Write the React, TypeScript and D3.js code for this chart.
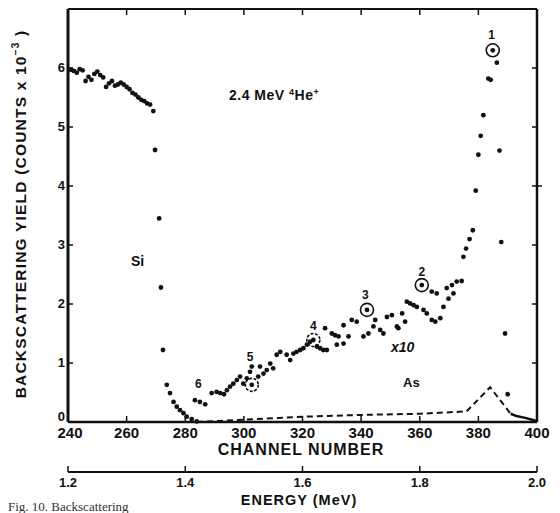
import React from "react";
import * as d3 from "d3";

// Si (unscaled) spectrum: channel, counts x 10^-3
const siChannels = [241, 242, 243, 244, 245, 246, 247, 248, 249, 250, 251, 252, 253, 254, 255, 256, 257, 258, 259, 260, 261, 262, 263, 264, 265, 266, 267, 268, 269.1, 269.7, 271.1, 271.7, 272.4, 273.7, 274.8, 276, 277.1, 278.2, 279.4, 280.5, 282.2, 283.9];
const siValues = [5.97, 5.95, 5.92, 5.98, 5.96, 5.78, 5.85, 5.8, 5.9, 5.94, 5.88, 5.84, 5.68, 5.74, 5.78, 5.7, 5.72, 5.75, 5.72, 5.68, 5.64, 5.58, 5.55, 5.5, 5.46, 5.44, 5.4, 5.38, 5.27, 4.61, 3.45, 2.28, 1.22, 0.63, 0.49, 0.34, 0.26, 0.2, 0.15, 0.09, 0.05, 0.01];

// As spectrum multiplied by 10
const asChannels = [283.3, 285, 286.8, 289, 290.7, 291.9, 293.2, 294.2, 295.3, 296.4, 297.6, 298.7, 299.8, 301, 302.1, 302.7, 302.7, 304.9, 305.5, 306.7, 307.8, 309, 310, 311.2, 312.4, 314.6, 315.8, 316.9, 318, 319.2, 320.3, 321.5, 322.6, 323.7, 324.9, 326, 327.1, 328.3, 327.7, 330, 331.1, 332.3, 331.7, 334, 334, 335.7, 336.8, 338.5, 340.8, 342, 342.5, 344.2, 344.8, 346.5, 347.6, 348.8, 350.5, 352.2, 352.7, 354, 355, 355.6, 356.7, 357.9, 359, 360.7, 361.3, 362.4, 364.1, 365.3, 367, 368.1, 369.8, 364.1, 365.8, 369.2, 371.5, 371, 372.6, 374.3, 374.9, 375.8, 377, 378.1, 379.1, 380, 380.8, 381.7, 383.4, 384.2, 384.9, 386.3, 387.2, 387.8, 389.1, 390];
const asValues = [0.37, 0.34, 0.3, 0.49, 0.51, 0.49, 0.47, 0.54, 0.6, 0.65, 0.71, 0.77, 0.65, 0.74, 0.85, 0.94, 0.63, 0.77, 0.94, 0.82, 0.88, 0.99, 0.91, 1.14, 1.19, 1.14, 1.05, 1.16, 1.19, 1.22, 1.25, 1.31, 1.36, 1.39, 1.28, 1.25, 1.22, 1.22, 1.59, 1.5, 1.47, 1.45, 1.31, 1.33, 1.64, 1.45, 1.73, 1.7, 1.45, 1.9, 1.5, 1.62, 1.73, 1.56, 1.5, 1.78, 1.81, 1.62, 1.59, 1.84, 1.7, 2.04, 2.01, 1.98, 1.95, 2.32, 1.9, 1.84, 1.73, 1.7, 1.76, 1.95, 2.09, 2.21, 2.18, 2.27, 2.18, 2.32, 2.38, 2.39, 2.8, 2.94, 3.1, 3.25, 3.92, 4.53, 4.85, 5.2, 5.82, 5.8, 6.3, 6.09, 4.6, 3.05, 1.5, 0.47];

// Marked channels (numbered, circled)
const markLabels = ["1", "2", "3", "4", "5", "6"];
const markChannels = [384.9, 360.7, 342, 323.7, 302.7];
const markValues = [6.3, 2.32, 1.9, 1.39, 0.63];
const labelChannels = [384.5, 360.7, 341.4, 323.7, 302.1, 284.5];
const labelValues = [6.56, 2.54, 2.15, 1.63, 1.1, 0.65];

// As spectrum (unscaled), dashed
const asLineChannels = [284, 300, 320, 340, 360, 376, 384, 391];
const asLineValues = [0.0, 0.04, 0.09, 0.12, 0.14, 0.18, 0.59, 0.14];
const tailChannels = [391, 393, 396, 399, 400];
const tailValues = [0.14, 0.1, 0.07, 0.03, 0.01];

const channelTicks = [240, 260, 280, 300, 320, 340, 360, 380, 400];
const yieldTicks = [0, 1, 2, 3, 4, 5, 6];
const energyTicks = [1.2, 1.4, 1.6, 1.8, 2.0];

const W = 560;
const H = 513;

export default function App() {
  const x = d3.scaleLinear().domain([240, 400]).range([68, 537]);
  const y = d3.scaleLinear().domain([0, 7]).range([422, 9]);
  const e = d3.scaleLinear().domain([1.2, 2.0]).range([68, 537]);
  const eY = 472;

  const lineGen = d3
    .line<[number, number]>()
    .x((d) => x(d[0]))
    .y((d) => y(d[1]));

  const asLine = asLineChannels.map((c, i) => [c, asLineValues[i]] as [number, number]);
  const tail = tailChannels.map((c, i) => [c, tailValues[i]] as [number, number]);
  const font = "'Liberation Sans', Arial, sans-serif";

  return (
    <svg
      width={W}
      height={H}
      style={{ position: "absolute", left: 0, top: 0, background: "#fff" }}
      fontFamily={font}
    >
      <rect x={0} y={0} width={W} height={H} fill="#fff" />
      {/* frame */}
      <line x1={x(240)} y1={y(7)} x2={x(400)} y2={y(7)} stroke="#111" strokeWidth={2} />
      <line x1={x(240)} y1={y(0)} x2={x(400)} y2={y(0)} stroke="#111" strokeWidth={2.5} />
      <line x1={x(240)} y1={y(7)} x2={x(240)} y2={y(0)} stroke="#111" strokeWidth={3} />
      <line x1={x(400)} y1={y(7)} x2={x(400)} y2={y(0)} stroke="#111" strokeWidth={2.5} />

      {/* channel ticks bottom and top */}
      {channelTicks.slice(1, -1).map((t) => (
        <g key={"ct" + t}>
          <line x1={x(t)} y1={y(0)} x2={x(t)} y2={y(0) - 6} stroke="#111" strokeWidth={1.5} />
          <line x1={x(t)} y1={y(7)} x2={x(t)} y2={y(7) + 6} stroke="#111" strokeWidth={1.5} />
        </g>
      ))}
      {channelTicks.map((t) => (
        <text key={"cl" + t} x={x(t) + (t === 240 ? 2 : 0)} y={438} fontSize={15} fontWeight="bold" textAnchor="middle" fill="#111">
          {t}
        </text>
      ))}
      <text x={301} y={455} fontSize={16} fontWeight="bold" textAnchor="middle" fill="#111" letterSpacing={1}>
        CHANNEL NUMBER
      </text>

      {/* yield ticks left and right */}
      {yieldTicks.slice(1).map((t) => (
        <g key={"yt" + t}>
          <line x1={x(240)} y1={y(t)} x2={x(240) + 5} y2={y(t)} stroke="#111" strokeWidth={1.5} />
          <line x1={x(400) - 5} y1={y(t)} x2={x(400) + (t === 4 ? 5 : 0)} y2={y(t)} stroke="#111" strokeWidth={1.5} />
        </g>
      ))}
      {yieldTicks.map((t) => (
        <text key={"yl" + t} x={x(240) - 3} y={t === 0 ? y(0) - 1 : y(t) + 4} fontSize={13} fontWeight="bold" textAnchor="end" fill="#111">
          {t}
        </text>
      ))}
      <text
        transform={`translate(26, 214) rotate(-90)`}
        fontSize={15.5}
        fontWeight="bold"
        textAnchor="middle"
        fill="#111"
        letterSpacing={1.2}
      >
        BACKSCATTERING YIELD (COUNTS x 10
        <tspan dy={-7} fontSize={10}>−3</tspan>
        <tspan dy={7}> )</tspan>
      </text>

      {/* energy axis */}
      <line x1={e(1.2)} y1={eY} x2={e(2.0)} y2={eY} stroke="#111" strokeWidth={2} />
      {energyTicks.map((t) => (
        <g key={"et" + t}>
          <line x1={e(t)} y1={eY} x2={e(t)} y2={eY - 6} stroke="#111" strokeWidth={1.5} />
          <text x={e(t)} y={eY + 15} fontSize={13} fontWeight="bold" textAnchor="middle" fill="#111">
            {t.toFixed(1)}
          </text>
        </g>
      ))}
      <text x={299} y={505} fontSize={14.5} fontWeight="bold" textAnchor="middle" fill="#111" letterSpacing={1}>
        ENERGY (MeV)
      </text>

      {/* As dashed spectrum */}
      <path d={lineGen(asLine) || ""} fill="none" stroke="#111" strokeWidth={2} strokeDasharray="6,4" />
      <path d={lineGen(tail) || ""} fill="none" stroke="#111" strokeWidth={2.5} />

      {/* Si points */}
      {siChannels.map((c, i) => (
        <circle key={"si" + i} cx={x(c)} cy={y(siValues[i])} r={2.4} fill="#111" />
      ))}
      {/* As x10 points */}
      {asChannels.map((c, i) => (
        <circle key={"as" + i} cx={x(c)} cy={y(asValues[i])} r={2.4} fill="#111" />
      ))}
      {/* circled marks */}
      {markChannels.map((c, i) => (
        <circle key={"mk" + i} cx={x(c)} cy={y(markValues[i])} r={6.5} fill="none" stroke="#111" strokeWidth={1.6} strokeDasharray={i === 4 || i === 3 ? "3,1.5" : undefined} />
      ))}
      {labelChannels.map((c, i) => (
        <text key={"ml" + i} x={x(c)} y={y(labelValues[i]) + 4} fontSize={12} fontWeight="bold" textAnchor="middle" fill="#111">
          {markLabels[i]}
        </text>
      ))}

      {/* annotations */}
      <text x={229} y={100} fontSize={14} fontWeight="bold" fill="#111" letterSpacing={0.5}>
        2.4 MeV{"  "}
        <tspan dy={-5} fontSize={9}>4</tspan>
        <tspan dy={5}>He</tspan>
        <tspan dy={-5} fontSize={9}>+</tspan>
      </text>
      <text x={131} y={266} fontSize={14} fontWeight="bold" fill="#111">Si</text>
      <text x={391} y={352} fontSize={14} fontWeight="bold" fontStyle="italic" fill="#111">x10</text>
      <text x={403} y={387} fontSize={13} fontWeight="bold" fill="#111">As</text>

      {/* caption (cut off at page edge) */}
      <text x={8} y={511} fontSize={13} fontFamily="'Liberation Serif', serif" fill="#333">
        Fig. 10. Backscattering
      </text>
    </svg>
  );
}
